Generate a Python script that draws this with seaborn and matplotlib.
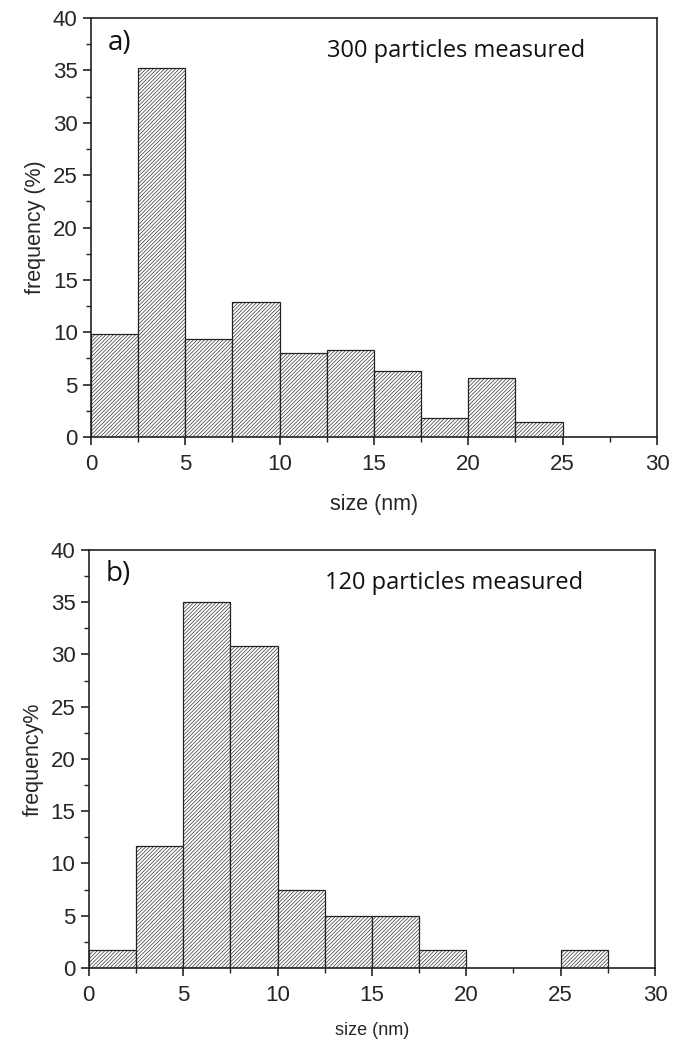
import matplotlib
matplotlib.use("Agg")
import matplotlib.pyplot as plt
import seaborn as sns
import numpy as np
from matplotlib.ticker import MultipleLocator

sns.set_style("ticks")
plt.rcParams['font.family'] = ['Liberation Sans', 'DejaVu Sans']
plt.rcParams['hatch.linewidth'] = 0.45
plt.rcParams['hatch.color'] = '#7a7a7a'

bin_edges = [0, 2.5, 5, 7.5, 10, 12.5, 15, 17.5, 20, 22.5, 25, 27.5, 30]
bin_centers = [1.25, 3.75, 6.25, 8.75, 11.25, 13.75, 16.25, 18.75, 21.25, 23.75, 26.25, 28.75]
freq_a = [9.8, 35.2, 9.4, 12.9, 8.0, 8.3, 6.3, 1.8, 5.6, 1.4, 0, 0]
freq_b = [1.7, 11.7, 35.0, 30.8, 7.5, 5.0, 5.0, 1.7, 0, 0, 1.7, 0]
labels = ["a)", "b)"]
notes = ["300 particles measured", "120 particles measured"]
ylabels = ["frequency (%)", "frequency%"]
xlabel = "size (nm)"

fig = plt.figure(figsize=(6.83, 10.43), dpi=100)
ax_a = fig.add_axes([0.133, 0.581, 0.829, 0.4017])
ax_b = fig.add_axes([0.130, 0.0719, 0.829, 0.4008])

for i, (ax, freq, lab, note, yl) in enumerate(zip([ax_a, ax_b], [freq_a, freq_b], labels, notes, ylabels)):
    sns.histplot(x=bin_centers, weights=freq, bins=bin_edges, ax=ax,
                 stat="count", fill=True, facecolor="white", edgecolor="#222222",
                 linewidth=0.9, hatch="/////////", alpha=1)
    for p in ax.patches:
        if p.get_height() == 0:
            p.set_visible(False)
    ax.set_xlim(0, 30)
    ax.set_ylim(0, 40)
    ax.xaxis.set_major_locator(MultipleLocator(5))
    ax.xaxis.set_minor_locator(MultipleLocator(2.5))
    ax.yaxis.set_major_locator(MultipleLocator(5))
    ax.yaxis.set_minor_locator(MultipleLocator(2.5))
    ax.tick_params(which="major", direction="out", length=6, width=1.2, labelsize=16, color="#222222")
    ax.tick_params(which="minor", direction="out", length=3.5, width=1.0, color="#222222")
    ax.tick_params(axis="x", pad=6)
    for s in ax.spines.values():
        s.set_linewidth(1.2)
        s.set_color("#222222")
    ax.set_ylabel(yl, fontsize=15.5, labelpad=5)
    if i == 0:
        ax.set_xlabel(xlabel, fontsize=15.5, labelpad=14)
    else:
        ax.set_xlabel(xlabel, fontsize=13, labelpad=12)
    ax.text(0.03, 0.975, lab, transform=ax.transAxes, fontsize=20, va="top",
            ha="left", family=["Open Sans", "DejaVu Sans"], color="#111111")
    ax.text(0.645, 0.95, note, transform=ax.transAxes, fontsize=17, va="top",
            ha="center", family=["Open Sans", "DejaVu Sans"], color="#111111")

fig.savefig("out.png", dpi=100)
